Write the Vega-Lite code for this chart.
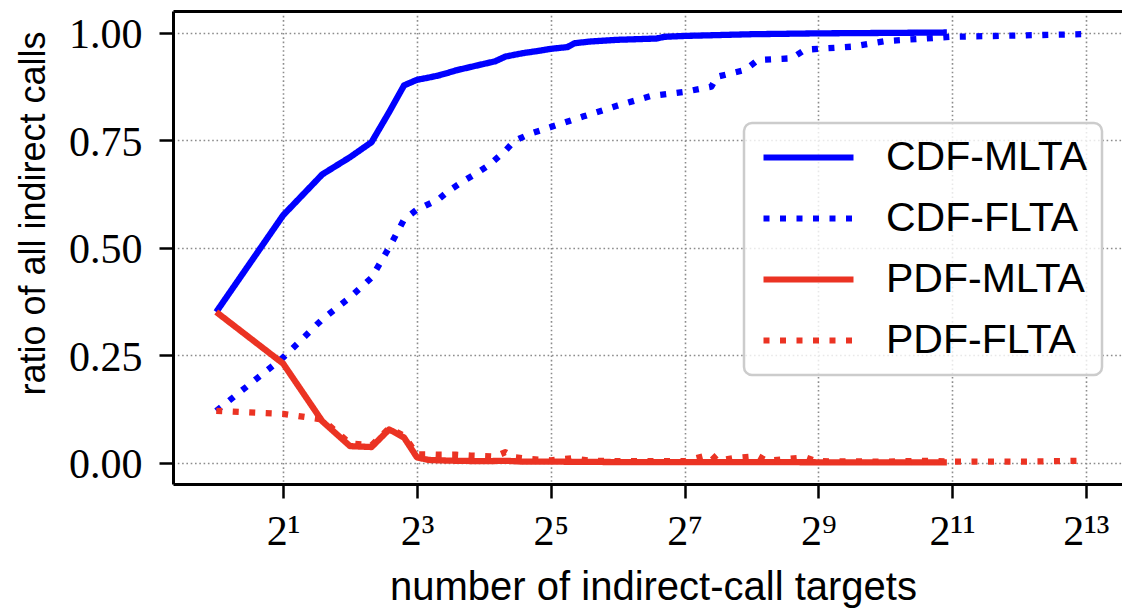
{
  "$schema": "https://vega.github.io/schema/vega-lite/v6.json",
  "width": 949,
  "height": 473,
  "autosize": {"type": "none"},
  "padding": {"left": 173, "top": 11, "right": 0, "bottom": 124},
  "background": "white",
  "config": {
    "view": {"stroke": null},
    "axis": {
      "domainColor": "black",
      "domainWidth": 3,
      "tickColor": "black",
      "tickWidth": 2.5,
      "tickSize": 14,
      "gridColor": "#8c8c8c",
      "gridDash": [1.6, 2.7],
      "gridWidth": 1.6,
      "labelFont": "Liberation Serif, DejaVu Serif",
      "labelFontSize": 42,
      "labelColor": "black",
      "titleFont": "Liberation Sans",
      "titleFontWeight": "normal",
      "titleColor": "black"
    },
    "legend": {
      "orient": "none",
      "legendX": 571,
      "legendY": 112,
      "padding": 14,
      "rowPadding": 19,
      "labelFont": "Liberation Sans",
      "labelFontSize": 41,
      "labelColor": "black",
      "labelLimit": 500,
      "symbolType": "M-1,0H5",
      "symbolSize": 900,
      "symbolStrokeWidth": 6,
      "labelOffset": 87,
      "fillColor": "rgba(255,255,255,0.8)",
      "strokeColor": "#cccccc",
      "strokeWidth": 2.5,
      "cornerRadius": 8
    }
  },
  "data": {
    "values": [
      {"series": "CDF-MLTA", "n": 1, "ratio": 0.35},
      {"series": "CDF-MLTA", "n": 2, "ratio": 0.575},
      {"series": "CDF-MLTA", "n": 3, "ratio": 0.67},
      {"series": "CDF-MLTA", "n": 4, "ratio": 0.71},
      {"series": "CDF-MLTA", "n": 5, "ratio": 0.745},
      {"series": "CDF-MLTA", "n": 6, "ratio": 0.815},
      {"series": "CDF-MLTA", "n": 7, "ratio": 0.877},
      {"series": "CDF-MLTA", "n": 8, "ratio": 0.89},
      {"series": "CDF-MLTA", "n": 9, "ratio": 0.895},
      {"series": "CDF-MLTA", "n": 10, "ratio": 0.9},
      {"series": "CDF-MLTA", "n": 11, "ratio": 0.906},
      {"series": "CDF-MLTA", "n": 12, "ratio": 0.912},
      {"series": "CDF-MLTA", "n": 14, "ratio": 0.92},
      {"series": "CDF-MLTA", "n": 16, "ratio": 0.927},
      {"series": "CDF-MLTA", "n": 18, "ratio": 0.933},
      {"series": "CDF-MLTA", "n": 20, "ratio": 0.944},
      {"series": "CDF-MLTA", "n": 24, "ratio": 0.952},
      {"series": "CDF-MLTA", "n": 28, "ratio": 0.957},
      {"series": "CDF-MLTA", "n": 32, "ratio": 0.962},
      {"series": "CDF-MLTA", "n": 38, "ratio": 0.966},
      {"series": "CDF-MLTA", "n": 41, "ratio": 0.975},
      {"series": "CDF-MLTA", "n": 48, "ratio": 0.979},
      {"series": "CDF-MLTA", "n": 64, "ratio": 0.983},
      {"series": "CDF-MLTA", "n": 96, "ratio": 0.986},
      {"series": "CDF-MLTA", "n": 104, "ratio": 0.99},
      {"series": "CDF-MLTA", "n": 128, "ratio": 0.992},
      {"series": "CDF-MLTA", "n": 256, "ratio": 0.996},
      {"series": "CDF-MLTA", "n": 512, "ratio": 0.998},
      {"series": "CDF-MLTA", "n": 1024, "ratio": 0.999},
      {"series": "CDF-MLTA", "n": 1940, "ratio": 1.0},

      {"series": "CDF-FLTA", "n": 1, "ratio": 0.12},
      {"series": "CDF-FLTA", "n": 2, "ratio": 0.244},
      {"series": "CDF-FLTA", "n": 3, "ratio": 0.333},
      {"series": "CDF-FLTA", "n": 4, "ratio": 0.384},
      {"series": "CDF-FLTA", "n": 5, "ratio": 0.43},
      {"series": "CDF-FLTA", "n": 6, "ratio": 0.5},
      {"series": "CDF-FLTA", "n": 7, "ratio": 0.565},
      {"series": "CDF-FLTA", "n": 8, "ratio": 0.588},
      {"series": "CDF-FLTA", "n": 10, "ratio": 0.612},
      {"series": "CDF-FLTA", "n": 11, "ratio": 0.63},
      {"series": "CDF-FLTA", "n": 13, "ratio": 0.655},
      {"series": "CDF-FLTA", "n": 15, "ratio": 0.674},
      {"series": "CDF-FLTA", "n": 17, "ratio": 0.693},
      {"series": "CDF-FLTA", "n": 20, "ratio": 0.725},
      {"series": "CDF-FLTA", "n": 22, "ratio": 0.748},
      {"series": "CDF-FLTA", "n": 26, "ratio": 0.765},
      {"series": "CDF-FLTA", "n": 32, "ratio": 0.78},
      {"series": "CDF-FLTA", "n": 45, "ratio": 0.805},
      {"series": "CDF-FLTA", "n": 64, "ratio": 0.83},
      {"series": "CDF-FLTA", "n": 90, "ratio": 0.852},
      {"series": "CDF-FLTA", "n": 128, "ratio": 0.862},
      {"series": "CDF-FLTA", "n": 169, "ratio": 0.874},
      {"series": "CDF-FLTA", "n": 179, "ratio": 0.897},
      {"series": "CDF-FLTA", "n": 240, "ratio": 0.913},
      {"series": "CDF-FLTA", "n": 274, "ratio": 0.936},
      {"series": "CDF-FLTA", "n": 388, "ratio": 0.94},
      {"series": "CDF-FLTA", "n": 446, "ratio": 0.96},
      {"series": "CDF-FLTA", "n": 724, "ratio": 0.967},
      {"series": "CDF-FLTA", "n": 1024, "ratio": 0.98},
      {"series": "CDF-FLTA", "n": 2048, "ratio": 0.99},
      {"series": "CDF-FLTA", "n": 7800, "ratio": 0.996},

      {"series": "PDF-MLTA", "n": 1, "ratio": 0.35},
      {"series": "PDF-MLTA", "n": 2, "ratio": 0.23},
      {"series": "PDF-MLTA", "n": 3, "ratio": 0.096},
      {"series": "PDF-MLTA", "n": 4, "ratio": 0.038},
      {"series": "PDF-MLTA", "n": 5, "ratio": 0.036},
      {"series": "PDF-MLTA", "n": 6, "ratio": 0.077},
      {"series": "PDF-MLTA", "n": 7, "ratio": 0.058},
      {"series": "PDF-MLTA", "n": 8, "ratio": 0.012},
      {"series": "PDF-MLTA", "n": 9, "ratio": 0.006},
      {"series": "PDF-MLTA", "n": 10, "ratio": 0.005},
      {"series": "PDF-MLTA", "n": 12, "ratio": 0.004},
      {"series": "PDF-MLTA", "n": 16, "ratio": 0.003},
      {"series": "PDF-MLTA", "n": 20, "ratio": 0.004},
      {"series": "PDF-MLTA", "n": 24, "ratio": 0.002},
      {"series": "PDF-MLTA", "n": 32, "ratio": 0.002},
      {"series": "PDF-MLTA", "n": 64, "ratio": 0.001},
      {"series": "PDF-MLTA", "n": 128, "ratio": 0.001},
      {"series": "PDF-MLTA", "n": 256, "ratio": 0.001},
      {"series": "PDF-MLTA", "n": 512, "ratio": 0.0005},
      {"series": "PDF-MLTA", "n": 1024, "ratio": 0.0003},
      {"series": "PDF-MLTA", "n": 1940, "ratio": 0.0003},

      {"series": "PDF-FLTA", "n": 1, "ratio": 0.12},
      {"series": "PDF-FLTA", "n": 2, "ratio": 0.113},
      {"series": "PDF-FLTA", "n": 3, "ratio": 0.1},
      {"series": "PDF-FLTA", "n": 4, "ratio": 0.044},
      {"series": "PDF-FLTA", "n": 5, "ratio": 0.04},
      {"series": "PDF-FLTA", "n": 6, "ratio": 0.08},
      {"series": "PDF-FLTA", "n": 7, "ratio": 0.062},
      {"series": "PDF-FLTA", "n": 8, "ratio": 0.019},
      {"series": "PDF-FLTA", "n": 9, "ratio": 0.019},
      {"series": "PDF-FLTA", "n": 10, "ratio": 0.018},
      {"series": "PDF-FLTA", "n": 12, "ratio": 0.018},
      {"series": "PDF-FLTA", "n": 14, "ratio": 0.016},
      {"series": "PDF-FLTA", "n": 16, "ratio": 0.015},
      {"series": "PDF-FLTA", "n": 18, "ratio": 0.014},
      {"series": "PDF-FLTA", "n": 20, "ratio": 0.024},
      {"series": "PDF-FLTA", "n": 22, "ratio": 0.012},
      {"series": "PDF-FLTA", "n": 26, "ratio": 0.008},
      {"series": "PDF-FLTA", "n": 32, "ratio": 0.005},
      {"series": "PDF-FLTA", "n": 40, "ratio": 0.01},
      {"series": "PDF-FLTA", "n": 48, "ratio": 0.004},
      {"series": "PDF-FLTA", "n": 64, "ratio": 0.003},
      {"series": "PDF-FLTA", "n": 128, "ratio": 0.003},
      {"series": "PDF-FLTA", "n": 169, "ratio": 0.019},
      {"series": "PDF-FLTA", "n": 180, "ratio": 0.004},
      {"series": "PDF-FLTA", "n": 211, "ratio": 0.01},
      {"series": "PDF-FLTA", "n": 274, "ratio": 0.015},
      {"series": "PDF-FLTA", "n": 300, "ratio": 0.004},
      {"series": "PDF-FLTA", "n": 446, "ratio": 0.012},
      {"series": "PDF-FLTA", "n": 500, "ratio": 0.003},
      {"series": "PDF-FLTA", "n": 1024, "ratio": 0.002},
      {"series": "PDF-FLTA", "n": 1500, "ratio": 0.004},
      {"series": "PDF-FLTA", "n": 2048, "ratio": 0.002},
      {"series": "PDF-FLTA", "n": 4096, "ratio": 0.002},
      {"series": "PDF-FLTA", "n": 7800, "ratio": 0.004}
    ]
  },
  "layer": [
    {
      "mark": {"type": "line", "strokeWidth": 6.3, "strokeCap": "butt", "strokeJoin": "round"},
      "encoding": {
        "x": {
          "field": "n",
          "type": "quantitative",
          "scale": {"type": "log", "base": 2, "domain": [0.6388, 11911], "nice": false, "zero": false},
          "axis": {
            "values": [2, 8, 32, 128, 512, 2048, 8192],
            "labelExpr": "datum.value == 2 ? '2¹' : datum.value == 8 ? '2³' : datum.value == 32 ? '2⁵' : datum.value == 128 ? '2⁷' : datum.value == 512 ? '2⁹' : datum.value == 2048 ? '2¹¹' : '2¹³'",
            "labelPadding": 13,
            "labelFlush": false,
            "grid": true,
            "title": "number of indirect-call targets",
            "titleFontSize": 40,
            "titleX": 480,
            "titleY": 115,
            "titleBaseline": "alphabetic",
            "titleAnchor": "middle"
          }
        },
        "y": {
          "field": "ratio",
          "type": "quantitative",
          "scale": {"domain": [-0.05, 1.05], "nice": false, "zero": false},
          "axis": {
            "values": [0, 0.25, 0.5, 0.75, 1],
            "format": ".2f",
            "labelPadding": 17,
            "labelOffset": 2,
            "grid": true,
            "title": "ratio of all indirect calls",
            "titleFontSize": 36,
            "titleX": -129,
            "titleY": 202,
            "titleAngle": -90,
            "titleBaseline": "alphabetic",
            "titleAnchor": "middle"
          }
        },
        "color": {
          "field": "series",
          "type": "nominal",
          "scale": {
            "domain": ["CDF-MLTA", "CDF-FLTA", "PDF-MLTA", "PDF-FLTA"],
            "range": ["#0000ff", "#0000ff", "#eb3323", "#eb3323"]
          },
          "legend": {"title": null}
        },
        "strokeDash": {
          "field": "series",
          "type": "nominal",
          "scale": {
            "domain": ["CDF-MLTA", "CDF-FLTA", "PDF-MLTA", "PDF-FLTA"],
            "range": [[1, 0], [6, 10.5], [1, 0], [6, 10.5]]
          },
          "legend": {"title": null}
        }
      }
    },
    {
      "mark": {"type": "line", "opacity": 0},
      "encoding": {
        "x": {
          "field": "n",
          "type": "quantitative",
          "axis": {"orient": "top", "labels": false, "ticks": false, "grid": false, "domain": true, "title": null}
        },
        "y": {"field": "ratio", "type": "quantitative"},
        "detail": {"field": "series"}
      }
    }
  ],
  "resolve": {"axis": {"x": "independent"}}
}
